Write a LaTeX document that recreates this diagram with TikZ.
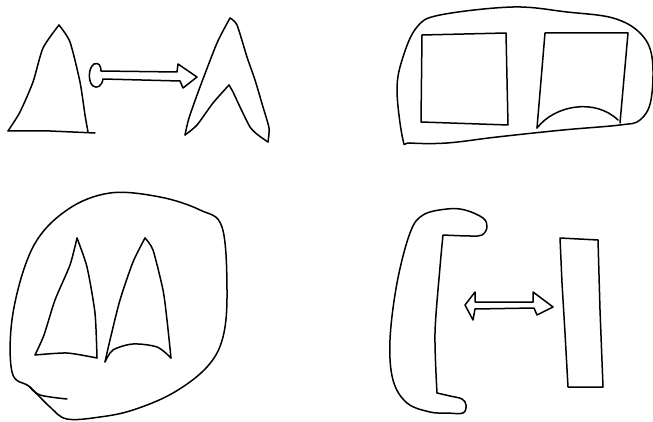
\documentclass[tikz,border=0pt]{standalone}
\begin{document}
\begin{tikzpicture}[x=1pt,y=-1pt, ink/.style={line width=1.5pt, line join=round, line cap=round}]
\useasboundingbox (0,0) rectangle (653,422);
% ---- top-left: triangle, double arrow, chevron
\draw[ink] plot[smooth,tension=0.4] coordinates {(8,131)(20,112)(33,82)(43,48)(59,25)};
\draw[ink] plot[smooth,tension=0.4] coordinates {(59,25)(70,42)(80,82)(85,115)(88,132)};
\draw[ink] (8,131) -- (50,131) -- (95,133);
\draw[ink] (101,71) -- (177,72) -- (178,64) -- (197,77) -- (183,88) -- (180,81) -- (103,79)
  .. controls (102,86) and (97,89) .. (93,86) .. controls (88,82) and (88,68) .. (94,64)
  .. controls (99,62) and (101,66) .. cycle;
\draw[ink] plot[smooth,tension=0.4] coordinates {(230,18)(217,43)(200,87)(189,118)(185,135)};
\draw[ink] plot[smooth,tension=0.4] coordinates {(185,135)(197,125)(213,103)(229,85)};
\draw[ink] plot[smooth,tension=0.4] coordinates {(229,85)(233,92)(240,107)(250,127)(258,135)(268,142)};
\draw[ink] plot[smooth,tension=0.4] coordinates {(268,142)(269,128)(263,107)(255,80)(247,57)(237,25)(230,18)};
% ---- top-right: blob with two squares
\draw[ink] plot[smooth cycle,tension=0.6] coordinates {(403,140)(397,90)(403,57)(417,27)(440,15)(513,7)(567,12)(613,18)(640,33)(652,57)(651,100)(640,120)(620,125)(563,130)(497,137)(447,143)(410,143)};
\draw[ink] (422,35) -- (506,33) -- (508,125) -- (421,122) -- cycle;
\draw[ink] (537,128) -- (545,33) -- (628,33) -- (620,123);
\draw[ink] (537,128) .. controls (555,105) and (595,98) .. (618,120);
% ---- bottom-left: round blob with two triangles
\draw[ink] plot[smooth cycle,tension=0.6] coordinates {(110,193)(67,210)(33,247)(13,313)(12,372)(30,387)(50,407)(67,419)(100,417)(133,410)(173,393)(207,367)(223,337)(227,290)(222,227)(200,210)(160,197)};
\draw[ink] plot[smooth,tension=0.6] coordinates {(30,387)(40,395)(67,399)};
\draw[ink] plot[smooth,tension=0.4] coordinates {(77,238)(70,265)(55,300)(44,335)(35,355)};
\draw[ink] plot[smooth,tension=0.4] coordinates {(35,355)(67,353)(97,358)};
\draw[ink] plot[smooth,tension=0.4] coordinates {(97,358)(95,313)(87,267)(77,238)};
\draw[ink] plot[smooth,tension=0.4] coordinates {(145,238)(133,262)(120,300)(110,340)(105,362)};
\draw[ink] plot[smooth,tension=0.5] coordinates {(105,362)(113,350)(133,344)(157,347)(171,358)};
\draw[ink] plot[smooth,tension=0.4] coordinates {(171,358)(167,320)(163,290)(153,250)(145,238)};
% ---- bottom-right: bracket, double arrow, bar
\draw[ink] plot[smooth,tension=0.5] coordinates {(437,393)(435,333)(440,267)(443,235)}
  -- plot[smooth,tension=0.6] coordinates {(443,235)(470,236)(482,235)(487,227)(483,218)(465,210)(447,209)(423,215)(410,233)(397,283)(390,340)(393,380)(407,403)(430,412)(447,413)(463,413)(466,405)(462,399)(450,396)(437,393)};
\draw[ink] (475,302) -- (533,302) -- (533,292) -- (553,307) -- (537,315) -- (534,308) -- (475,309)
  -- (473,320) -- (465,305) -- (475,292) -- cycle;
\draw[ink] (560,238) -- (598,240) -- (600,310) -- (603,387) -- (568,387) -- (565,333) -- (562,283) -- cycle;
\end{tikzpicture}
\end{document}
